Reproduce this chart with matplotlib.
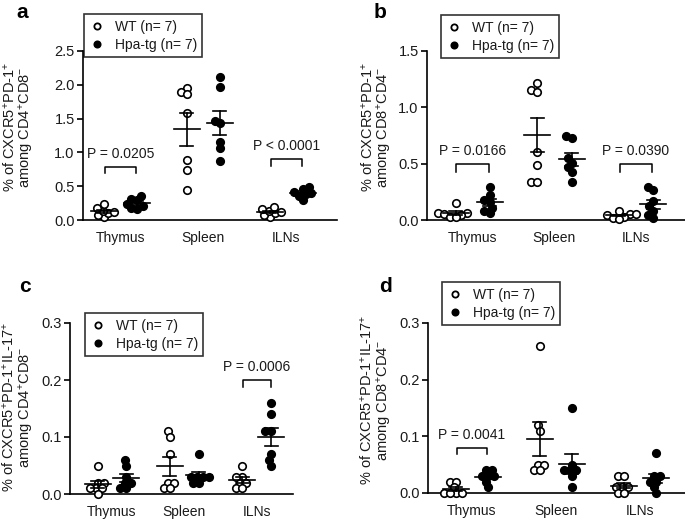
import numpy as np
import matplotlib
matplotlib.use("Agg")
import matplotlib.pyplot as plt
from matplotlib.lines import Line2D

plt.rcParams['font.family'] = ['Liberation Sans', 'DejaVu Sans']
plt.rcParams['mathtext.default'] = 'regular'

W, H = 685, 523
categories = ['Thymus', 'Spleen', 'ILNs']
group_labels = ['WT (n= 7)', 'Hpa-tg (n= 7)']

# panel a: CXCR5+PD-1+ among CD4+CD8-
a_wt = [[0.04, 0.08, 0.10, 0.12, 0.14, 0.18, 0.23],
        [1.96, 1.90, 1.86, 1.58, 0.89, 0.74, 0.45],
        [0.05, 0.08, 0.10, 0.12, 0.14, 0.16, 0.19]]
a_hpa = [[0.17, 0.18, 0.20, 0.24, 0.30, 0.31, 0.36],
         [2.12, 1.97, 1.47, 1.43, 1.16, 1.06, 0.87],
         [0.30, 0.36, 0.38, 0.40, 0.42, 0.46, 0.49]]
a_pvals = ['P = 0.0205', None, 'P < 0.0001']
a_yticks = [0.0, 0.5, 1.0, 1.5, 2.0, 2.5]

# panel b: CXCR5+PD-1+ among CD8+CD4-
b_wt = [[0.15, 0.06, 0.06, 0.05, 0.04, 0.03, 0.03],
        [1.22, 1.15, 1.14, 0.60, 0.49, 0.34, 0.34],
        [0.08, 0.05, 0.05, 0.04, 0.03, 0.02, 0.01]]
b_hpa = [[0.29, 0.22, 0.18, 0.16, 0.11, 0.08, 0.06],
         [0.75, 0.73, 0.55, 0.51, 0.47, 0.43, 0.34],
         [0.29, 0.27, 0.17, 0.12, 0.08, 0.04, 0.02]]
b_pvals = ['P = 0.0166', None, 'P = 0.0390']
b_yticks = [0.0, 0.5, 1.0, 1.5]

# panel c: CXCR5+PD-1+IL-17+ among CD4+CD8-
c_wt = [[0.05, 0.02, 0.02, 0.01, 0.01, 0.01, 0.00],
        [0.11, 0.10, 0.07, 0.02, 0.02, 0.01, 0.01],
        [0.05, 0.03, 0.03, 0.02, 0.02, 0.01, 0.01]]
c_hpa = [[0.06, 0.05, 0.03, 0.02, 0.02, 0.01, 0.01],
         [0.07, 0.03, 0.03, 0.03, 0.03, 0.02, 0.02],
         [0.16, 0.14, 0.11, 0.11, 0.07, 0.06, 0.05]]
c_pvals = [None, None, 'P = 0.0006']
c_yticks = [0.0, 0.1, 0.2, 0.3]

# panel d: CXCR5+PD-1+IL-17+ among CD8+CD4-
d_wt = [[0.02, 0.02, 0.01, 0.00, 0.00, 0.00, 0.00],
        [0.26, 0.12, 0.11, 0.05, 0.05, 0.04, 0.04],
        [0.03, 0.03, 0.01, 0.01, 0.01, 0.00, 0.00]]
d_hpa = [[0.04, 0.04, 0.03, 0.03, 0.03, 0.02, 0.01],
         [0.15, 0.05, 0.04, 0.04, 0.04, 0.03, 0.01],
         [0.07, 0.03, 0.03, 0.02, 0.02, 0.01, 0.00]]
d_pvals = ['P = 0.0041', None, None]
d_yticks = [0.0, 0.1, 0.2, 0.3]

ylabels = {
    'a': '% of CXCR5$^{+}$PD-1$^{+}$\namong CD4$^{+}$CD8$^{-}$',
    'b': '% of CXCR5$^{+}$PD-1$^{+}$\namong CD8$^{+}$CD4$^{-}$',
    'c': '% of CXCR5$^{+}$PD-1$^{+}$IL-17$^{+}$\namong CD4$^{+}$CD8$^{-}$',
    'd': '% of CXCR5$^{+}$PD-1$^{+}$IL-17$^{+}$\namong CD8$^{+}$CD4$^{-}$',
}

TXT = '#1a1a1a'
MS = 5.4  # marker size, points


def px_axes(fig, left, top, right, bottom):
    return fig.add_axes([left / W, 1 - bottom / H, (right - left) / W, (bottom - top) / H])


def swarm(ax, x0, vals, diam):
    # simple beeswarm in pixel space
    pts = ax.transData.transform(np.column_stack([np.full(len(vals), x0), vals]))
    ys = pts[:, 1]
    pxu = ax.transData.transform((1, 0))[0] - ax.transData.transform((0, 0))[0]
    placed = []
    xs = np.zeros(len(vals))
    for i in np.argsort(ys):
        cands = [0.0]
        for (px, py) in placed:
            dy = ys[i] - py
            if abs(dy) < diam:
                dx = np.sqrt(diam ** 2 - dy ** 2)
                cands += [px + dx, px - dx]
        cands.sort(key=lambda c: (abs(c), c))
        for c in cands:
            if all((c - px) ** 2 + (ys[i] - py) ** 2 >= diam ** 2 - 1e-6 for px, py in placed):
                xs[i] = c
                break
        placed.append((xs[i], ys[i]))
    return x0 + xs / pxu


def draw_panel(fig, letter, box, xlim, off, wt, hpa, yticks, pvals, br, leg, lab_xy, let_xy):
    ax = px_axes(fig, *box)
    ax.set_xlim(*xlim)
    ax.set_ylim(yticks[0], yticks[-1])
    pxu = ax.transData.transform((1, 0))[0] - ax.transData.transform((0, 0))[0]
    for k in range(3):
        for g, vals in enumerate([wt[k], hpa[k]]):
            x0 = k + (-off if g == 0 else off)
            xs = swarm(ax, x0, vals, 6.0)
            ax.scatter(xs, vals, s=MS ** 2, marker='o', linewidths=1.2,
                       facecolors='white' if g == 0 else 'black',
                       edgecolors='black', zorder=3, clip_on=False)
            v = np.array(vals)
            m = v.mean()
            sem = v.std(ddof=1) / np.sqrt(len(v))
            hw = 13 / pxu
            cw = 6.5 / pxu
            ax.plot([x0 - hw, x0 + hw], [m, m], color='black', lw=1.2, zorder=4)
            ax.plot([x0, x0], [m - sem, m + sem], color='black', lw=1.2, zorder=4)
            ax.plot([x0 - cw, x0 + cw], [m + sem] * 2, color='black', lw=1.2, zorder=4)
            ax.plot([x0 - cw, x0 + cw], [m - sem] * 2, color='black', lw=1.2, zorder=4)
        if pvals[k]:
            top, bot = br[k]
            x1, x2 = k - off * 0.95, k + off * 0.95
            ax.plot([x1, x1, x2, x2], [bot, top, top, bot], color='black', lw=1.1)
            ax.annotate(pvals[k], (k, top), xytext=(0, 13), textcoords='offset pixels',
                        ha='center', va='center', fontsize=10, color=TXT)
    for s in ['top', 'right']:
        ax.spines[s].set_visible(False)
    for s in ['left', 'bottom']:
        ax.spines[s].set_linewidth(1.2)
    ax.set_yticks(yticks)
    ax.set_yticklabels([f'{t:.1f}' for t in yticks])
    ax.set_xticks(range(3))
    ax.set_xticklabels(categories)
    ax.tick_params(axis='y', length=4, width=1.2, labelsize=10.5, labelcolor=TXT, pad=2)
    ax.tick_params(axis='x', length=0, labelsize=10, labelcolor=TXT, pad=8)

    handles = [Line2D([], [], ls='none', marker='o', ms=4.5, mfc='white', mec='black', mew=1.3),
               Line2D([], [], ls='none', marker='o', ms=4.5, mfc='black', mec='black', mew=1.3)]
    lg = fig.legend(handles, group_labels, loc='upper left',
                    bbox_to_anchor=(leg[0] / W, 1 - leg[1] / H), bbox_transform=fig.transFigure,
                    borderaxespad=0, fancybox=False, frameon=True, fontsize=10,
                    handlelength=1.0, handletextpad=0.8, labelspacing=0.3, borderpad=0.4)
    lg.get_frame().set_edgecolor('black')
    lg.get_frame().set_linewidth(1.2)
    for t in lg.get_texts():
        t.set_color(TXT)

    fig.text(lab_xy[0] / W, 1 - lab_xy[1] / H, ylabels[letter], rotation=90,
             ha='center', va='center', fontsize=10.5, color=TXT, linespacing=1.0)
    fig.text(let_xy[0] / W, 1 - let_xy[1] / H, letter, ha='center', va='center',
             fontsize=15, fontweight='bold', color='black')
    return ax


fig = plt.figure(figsize=(W / 100, H / 100), dpi=100)

draw_panel(fig, 'a', (83, 51, 337, 220), (-0.45, 2.61), 0.2, a_wt, a_hpa, a_yticks, a_pvals,
           {0: (0.79, 0.69), 2: (0.90, 0.80)}, (84, 14), (19, 127), (22, 13))
draw_panel(fig, 'b', (427, 51, 685, 220), (-0.56, 2.6), 0.21, b_wt, b_hpa, b_yticks, b_pvals,
           {0: (0.496, 0.43), 2: (0.496, 0.43)}, (441, 15), (377, 127), (380, 13))
draw_panel(fig, 'c', (70, 323, 293, 494), (-0.58, 2.5), 0.2, c_wt, c_hpa, c_yticks, c_pvals,
           {2: (0.2, 0.187)}, (85, 313), (18, 407), (25, 287))
draw_panel(fig, 'd', (428, 323, 685, 493), (-0.52, 2.54), 0.19, d_wt, d_hpa, d_yticks, d_pvals,
           {0: (0.079, 0.068)}, (442, 282), (376, 400), (385, 287))

fig.savefig('out.png', dpi=100)
